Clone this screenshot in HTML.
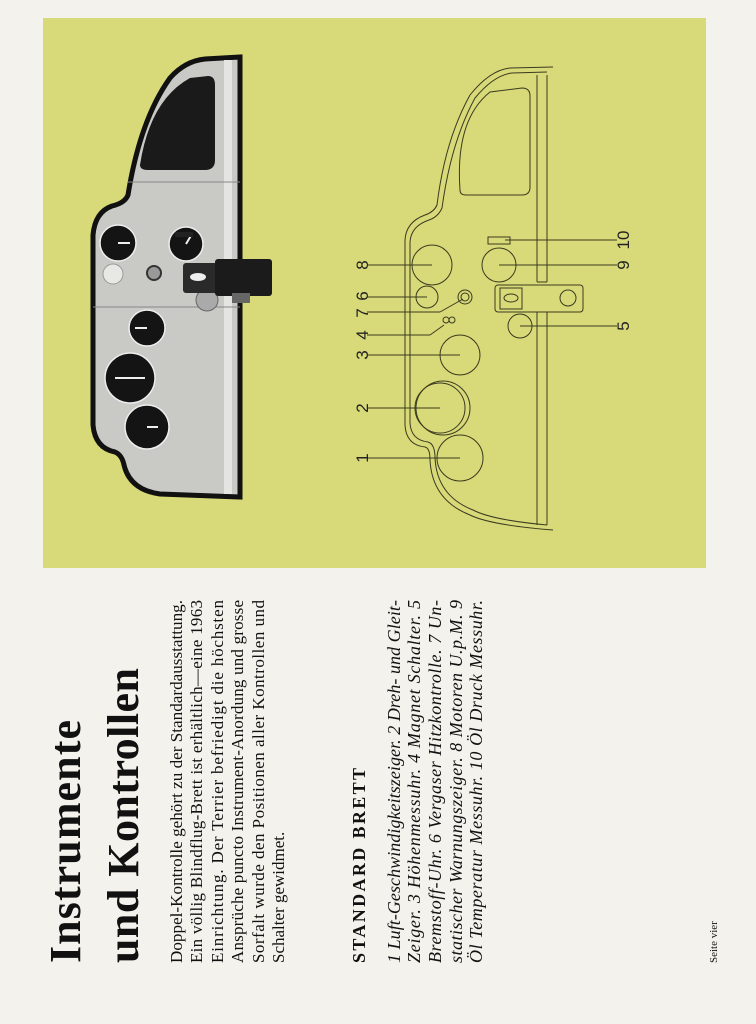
<!DOCTYPE html>
<html><head><meta charset="utf-8">
<style>
html,body{margin:0;padding:0;background:#f4f2ec;}
svg{display:block}
</style></head>
<body>
<svg width="756" height="1024" viewBox="0 0 756 1024" xmlns="http://www.w3.org/2000/svg">
<rect width="756" height="1024" fill="#f4f2ec"/>
<rect x="43" y="18" width="663" height="550" fill="#d8d978"/>

<!-- photo dashboard -->
<path d="M240,57 L205,59 Q185,61 170,78 Q140,120 128,195 Q125,203 112,206 Q95,212 93,235 L93,425 Q95,448 115,452 Q122,455 124,465 Q130,490 160,494 L240,497 Z" fill="#c9c9c5" stroke="#111" stroke-width="5"/>
<rect x="224" y="60" width="8" height="434" fill="#e4e4e0"/>
<line x1="128" y1="182" x2="240" y2="182" stroke="#888" stroke-width="1"/>
<line x1="93" y1="307" x2="240" y2="307" stroke="#888" stroke-width="1"/>
<path d="M140,165 Q150,100 190,78 L208,76 Q215,76 215,85 L215,160 Q215,170 205,170 L148,170 Q140,170 140,165 Z" fill="#1a1a1a"/>
<g stroke="#eee" stroke-width="1.5">
<circle cx="118" cy="243" r="18" fill="#141414"/>
<circle cx="186" cy="244" r="17" fill="#141414"/>
<circle cx="147" cy="328" r="18" fill="#141414"/>
<circle cx="130" cy="378" r="25" fill="#141414"/>
<circle cx="147" cy="427" r="22" fill="#141414"/>
</g>
<g stroke="#eee" stroke-width="2">
<line x1="118" y1="243" x2="130" y2="243"/><line x1="186" y1="244" x2="192" y2="234"/>
<line x1="147" y1="328" x2="135" y2="328"/><line x1="115" y1="378" x2="145" y2="378"/>
<line x1="147" y1="427" x2="158" y2="427"/>
</g>
<circle cx="113" cy="274" r="10" fill="#e8e8e4" stroke="#999"/>
<circle cx="154" cy="273" r="7" fill="#999" stroke="#333" stroke-width="2"/>
<circle cx="207" cy="300" r="11" fill="#aaa" stroke="#666"/>
<rect x="175" y="232" width="18" height="5" fill="#222"/>
<rect x="183" y="263" width="60" height="30" rx="3" fill="#2a2a2a"/>
<rect x="215" y="259" width="57" height="37" rx="3" fill="#1b1b1b"/>
<ellipse cx="198" cy="277" rx="8" ry="4" fill="#eee"/>
<rect x="232" y="293" width="18" height="10" fill="#666"/>

<!-- line drawing -->
<g fill="none" stroke="#3a3a20" stroke-width="1">
<path d="M553,67 L510,68 Q490,70 470,95 Q445,140 437,205 Q434,212 425,215 Q406,222 405,240 L405,425 Q406,445 425,447 Q430,448 430,460 Q432,500 470,515 Q490,525 553,530"/>
<path d="M547,72 L512,73 Q494,75 475,98 Q451,142 442,208 Q438,217 429,220 Q411,226 410,242 L410,423 Q411,440 428,442 Q435,444 435,458 Q437,496 473,510 Q492,520 547,525"/>
<path d="M460,190 Q455,120 490,92 L522,88 Q530,88 530,96 L530,187 Q530,195 522,195 L466,195 Q460,195 460,190 Z"/>
<line x1="537" y1="75" x2="537" y2="282"/><line x1="547" y1="75" x2="547" y2="282"/>
<line x1="537" y1="282" x2="547" y2="282"/>
<line x1="537" y1="312" x2="537" y2="525"/><line x1="547" y1="312" x2="547" y2="525"/>
<circle cx="460" cy="458" r="23"/><circle cx="443" cy="408" r="27"/><circle cx="440" cy="408" r="25"/>
<circle cx="460" cy="355" r="20"/><circle cx="465" cy="297" r="7"/><circle cx="465" cy="297" r="4"/>
<circle cx="427" cy="297" r="11"/><circle cx="432" cy="265" r="20"/><circle cx="499" cy="265" r="17"/>
<circle cx="520" cy="326" r="12"/>
<rect x="488" y="237" width="22" height="7"/>
<rect x="495" y="285" width="88" height="27" rx="3"/>
<rect x="500" y="288" width="22" height="21"/>
<ellipse cx="511" cy="298" rx="7" ry="4"/>
<circle cx="568" cy="298" r="8"/>
<circle cx="446" cy="320" r="3"/><circle cx="452" cy="320" r="3"/>
<line x1="367" y1="458" x2="460" y2="458"/>
<line x1="367" y1="408" x2="440" y2="408"/>
<line x1="367" y1="355" x2="460" y2="355"/>
<line x1="367" y1="335" x2="430" y2="335"/><line x1="430" y1="335" x2="444" y2="325"/>
<line x1="367" y1="312" x2="440" y2="312"/><line x1="440" y1="312" x2="463" y2="299"/>
<line x1="367" y1="297" x2="427" y2="297"/>
<line x1="367" y1="265" x2="432" y2="265"/>
<line x1="499" y1="265" x2="617" y2="265"/>
<line x1="505" y1="240" x2="617" y2="240"/>
<line x1="520" y1="326" x2="617" y2="326"/>
</g>
<g font-family="Liberation Sans, sans-serif" font-size="17" fill="#222" text-anchor="middle">
<text transform="translate(368,458) rotate(-90)">1</text>
<text transform="translate(368,408) rotate(-90)">2</text>
<text transform="translate(368,355) rotate(-90)">3</text>
<text transform="translate(368,335) rotate(-90)">4</text>
<text transform="translate(368,313) rotate(-90)">7</text>
<text transform="translate(368,296) rotate(-90)">6</text>
<text transform="translate(368,265) rotate(-90)">8</text>
<text transform="translate(629,265) rotate(-90)">9</text>
<text transform="translate(629,240) rotate(-90)">10</text>
<text transform="translate(629,326) rotate(-90)">5</text>
</g>

<!-- text -->
<g font-family="Liberation Serif, serif" fill="#111">
<text transform="translate(80,963) rotate(-90)" font-size="44" font-weight="bold" textLength="243" lengthAdjust="spacing">Instrumente</text>
<text transform="translate(138,963) rotate(-90)" font-size="44" font-weight="bold" textLength="295" lengthAdjust="spacing">und Kontrollen</text>
<g font-size="17">
<text transform="translate(182,963) rotate(-90)" textLength="363" lengthAdjust="spacingAndGlyphs">Doppel-Kontrolle gehört zu der Standardausstattung.</text>
<text transform="translate(202,963) rotate(-90)" textLength="363" lengthAdjust="spacing">Ein völlig Blindflug-Brett ist erhältlich—eine 1963</text>
<text transform="translate(223,963) rotate(-90)" textLength="363" lengthAdjust="spacing">Einrichtung. Der Terrier befriedigt die höchsten</text>
<text transform="translate(243,963) rotate(-90)" textLength="363" lengthAdjust="spacing">Ansprüche puncto Instrument-Anordung und grosse</text>
<text transform="translate(264,963) rotate(-90)" textLength="363" lengthAdjust="spacing">Sorfalt wurde den Positionen aller Kontrollen und</text>
<text transform="translate(284,963) rotate(-90)">Schalter gewidmet.</text>
</g>
<text transform="translate(365,963) rotate(-90)" font-size="18" font-weight="bold" textLength="195" lengthAdjust="spacing">STANDARD BRETT</text>
<g font-size="18" font-style="italic">
<text transform="translate(400,963) rotate(-90)" textLength="363" lengthAdjust="spacing">1 Luft-Geschwindigkeitszeiger.   2 Dreh- und Gleit-</text>
<text transform="translate(420,963) rotate(-90)" textLength="363" lengthAdjust="spacing">Zeiger.  3 Höhenmessuhr.  4 Magnet Schalter.  5</text>
<text transform="translate(441,963) rotate(-90)" textLength="363" lengthAdjust="spacing">Bremstoff-Uhr.  6 Vergaser Hitzkontrolle.  7 Un-</text>
<text transform="translate(462,963) rotate(-90)" textLength="363" lengthAdjust="spacing">statischer Warnungszeiger.  8 Motoren U.p.M.  9</text>
<text transform="translate(482,963) rotate(-90)" textLength="363" lengthAdjust="spacing">Öl Temperatur Messuhr.  10 Öl Druck Messuhr.</text>
</g>
<text transform="translate(717,963) rotate(-90)" font-size="11">Seite vier</text>
</g>
</svg>
</body></html>
